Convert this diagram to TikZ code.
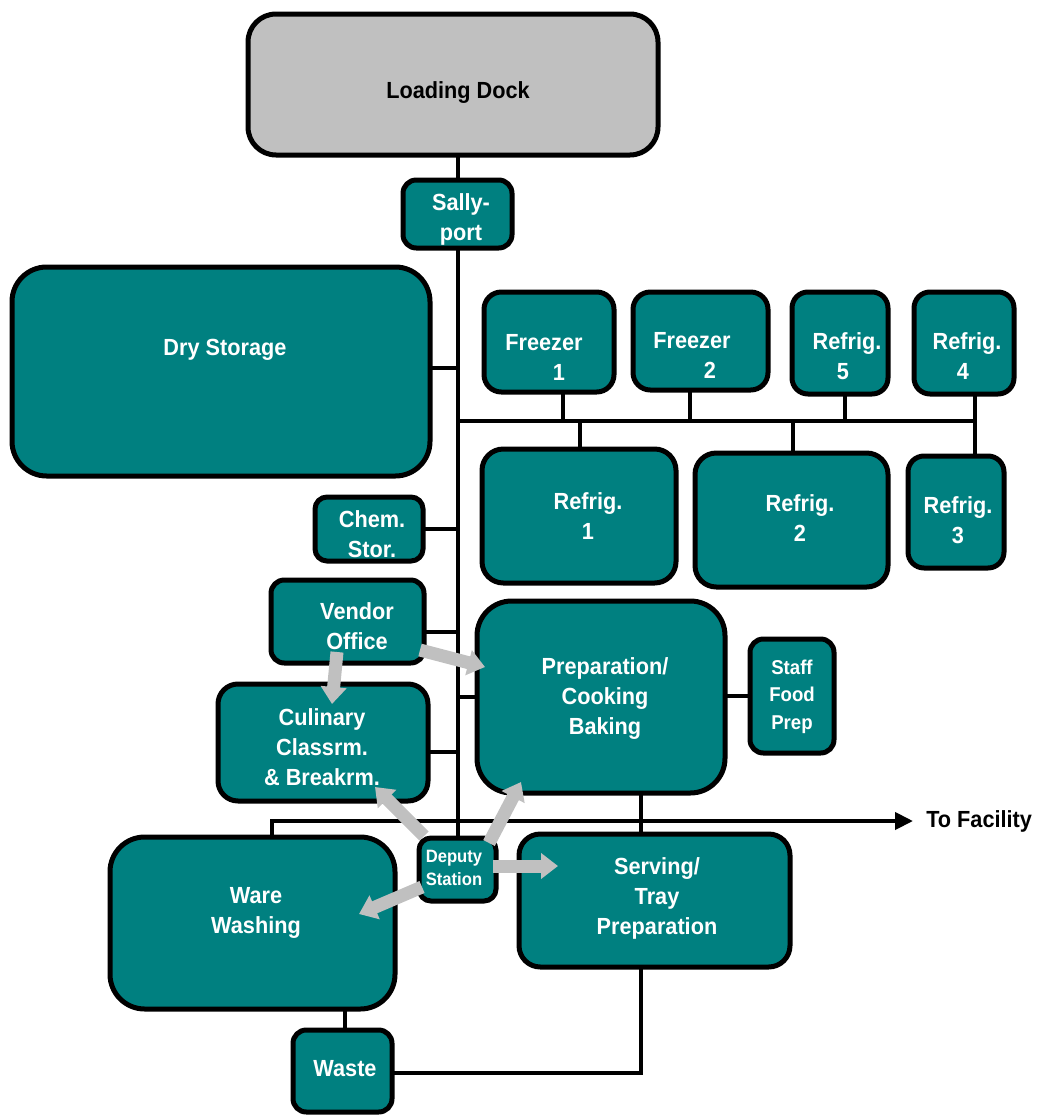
\documentclass[tikz,border=0pt]{standalone}
\usepackage{fontspec}
\setmainfont{Liberation Sans}[FakeStretch=0.93]
\usetikzlibrary{fit,arrows.meta}
\definecolor{teal1}{RGB}{0,128,128}
\definecolor{lgray}{RGB}{192,192,192}
\begin{document}
\begin{tikzpicture}[x=0.75pt,y=-0.75pt,
  box/.style={draw=black,line width=3.75pt,fill=teal1,inner sep=0pt,outer sep=0pt},
  txt/.style={text=white,font=\bfseries\fontsize{17.5}{22.5}\selectfont,align=center,inner sep=0pt},
  conn/.style={draw=black,line width=3pt},
  garrow/.style={draw=lgray,line width=9.75pt,-{Triangle[length=12.75pt,width=18.75pt]}}]
\useasboundingbox (0,0) rectangle (1039,1117);

% boxes
\node[box,fill=lgray,rounded corners=21pt,fit={(248,14)(658,155)}] (ld) {};
\node[box,rounded corners=10pt,fit={(403,180)(512,248)}] (sp) {};
\node[box,rounded corners=26pt,fit={(12,267)(430,476)}] (dry) {};
\node[box,rounded corners=13pt,fit={(484,292)(614,392)}] (f1) {};
\node[box,rounded corners=13pt,fit={(633,292)(768,390)}] (f2) {};
\node[box,rounded corners=12pt,fit={(792,292)(888,394)}] (r5) {};
\node[box,rounded corners=12pt,fit={(914,292)(1014,394)}] (r4) {};
\node[box,rounded corners=16pt,fit={(482,449)(676,583)}] (r1) {};
\node[box,rounded corners=16pt,fit={(695,453)(888,587)}] (r2) {};
\node[box,rounded corners=12pt,fit={(908,456)(1004,568)}] (r3) {};
\node[box,rounded corners=9pt,fit={(315,497)(423,561)}] (chem) {};
\node[box,rounded corners=10pt,fit={(271,580)(424,663)}] (vo) {};
\node[box,rounded corners=15pt,fit={(218,684)(428,801)}] (cul) {};
\node[box,rounded corners=26pt,fit={(477,601)(725,793)}] (prep) {};
\node[box,rounded corners=10pt,fit={(750,639)(834,753)}] (staff) {};
\node[box,rounded corners=9pt,fit={(419,838)(496,901)}] (ds) {};
\node[box,rounded corners=26pt,fit={(110,837)(395,1009)}] (ww) {};
\node[box,rounded corners=16pt,fit={(519,834)(790,967)}] (serv) {};
\node[box,rounded corners=10pt,fit={(293,1030)(392,1112)}] (waste) {};

% texts
\node[txt,text=black] (tld) at (458,93) {Loading Dock};
\node[txt] (tsp) at (461,219) {Sally-\\port};
\node[txt] (tdry) at (225,350) {Dry Storage};
\node[txt] (tf1) at (544,357) {Freezer\\\hspace*{22.5pt}1};
\node[txt] (tf2) at (692,355.5) {Freezer\\\hspace*{27pt}2};
\node[txt] (tr5) at (847,356.5) {Refrig.\\5\hspace*{6pt}};
\node[txt] (tr4) at (967,356.5) {Refrig.\\4\hspace*{6pt}};
\node[txt] (tr1) at (588,516) {Refrig.\\1};
\node[txt] (tr2) at (800,518.5) {Refrig.\\2};
\node[txt] (tr3) at (958,520) {Refrig.\\3};
\node[txt] (tchem) at (372,534.5) {Chem.\\Stor.};
\node[txt] (tvo) at (357,626.5) {Vendor\\Office};
\node[txt] (tcul) at (322,747) {Culinary\\Classrm.\\\& Breakrm.};
\node[txt] (tprep) at (605,699) {Preparation/\\Cooking\\Baking};
\node[txt,font=\bfseries\fontsize{15}{20.5}\selectfont] (tstaff) at (792,696.5) {Staff\\Food\\Prep};
\node[txt,font=\bfseries\fontsize{13.4}{17.5}\selectfont] (tds) at (454,868) {Deputy\\Station};
\node[txt] (tww) at (256,913) {Ware\\Washing};
\node[txt] (tserv) at (657,898) {Serving/\\Tray\\Preparation};
\node[txt] (twaste) at (345,1069) {Waste};
\node[txt,text=black,anchor=west] (tofac) at (926,821) {To Facility};

% junction coordinates
\coordinate (jdry) at (457.5,368);
\coordinate (b0) at (457.5,421);
\coordinate (b1) at (975,421);
\coordinate (bf1) at (563,421);
\coordinate (bf2) at (690,421);
\coordinate (br5) at (845,421);
\coordinate (br1) at (580,421);
\coordinate (br2) at (793,421);
\coordinate (jvo) at (457.5,632);
\coordinate (jcul) at (457.5,752);
\coordinate (xs) at (641,1073);
\coordinate (xp) at (641,821);
\coordinate (fw) at (272,821);
\coordinate (xw) at (345,1020);

% connectors
\draw[conn] (sp.north) -- (sp.north |- ld.south);
\draw[conn] (sp.south) -- (ds.north);
\draw[conn] (jdry) -- (jdry -| dry.east);
\draw[conn] (b0) -- (b1);
\draw[conn] (bf1) -- (bf1 |- f1.south);
\draw[conn] (bf2) -- (bf2 |- f2.south);
\draw[conn] (br5) -- (br5 |- r5.south);
\draw[conn] (b1 |- r4.south) -- (b1 |- r3.north);
\draw[conn] (br1) -- (br1 |- r1.north);
\draw[conn] (br2) -- (br2 |- r2.north);
\draw[conn] (chem.east) -- (chem.east -| sp.south);
\draw[conn] (jvo) -- (jvo -| vo.east);
\draw[conn] (prep.west) -- (prep.west -| sp.south);
\draw[conn] (jcul) -- (jcul -| cul.east);
\draw[conn] (staff.west) -- (staff.west -| prep.east);
\draw[conn] (xp |- prep.south) -- (xp |- serv.north);
\draw[conn,line join=miter,-{Triangle[length=13.5pt,width=12.75pt]},shorten >=9.75pt]
  (ww.north -| fw) -- (fw) -- (fw -| tofac.west);
\draw[conn] (xw |- ww.south) -- (xw |- waste.north);
\draw[conn,line join=miter] (waste.east |- xs) -- (xs) -- (xs |- serv.south);

% gray arrows
\coordinate (a1s) at (337,652); \coordinate (a1e) at (332,704);
\coordinate (a2s) at (420,650); \coordinate (a2e) at (485,667);
\coordinate (a3s) at (424,836); \coordinate (a3e) at (375,787);
\coordinate (a4s) at (489,843); \coordinate (a4e) at (521,782);
\coordinate (a5s) at (493,866); \coordinate (a5e) at (558,866);
\coordinate (a6s) at (422,887); \coordinate (a6e) at (359,914);
\draw[garrow] (a1s) -- (a1e);
\draw[garrow] (a2s) -- (a2e);
\draw[garrow] (a3s) -- (a3e);
\draw[garrow] (a4s) -- (a4e);
\draw[garrow] (a5s) -- (a5e);
\draw[garrow] (a6s) -- (a6e);
\end{tikzpicture}
\end{document}
